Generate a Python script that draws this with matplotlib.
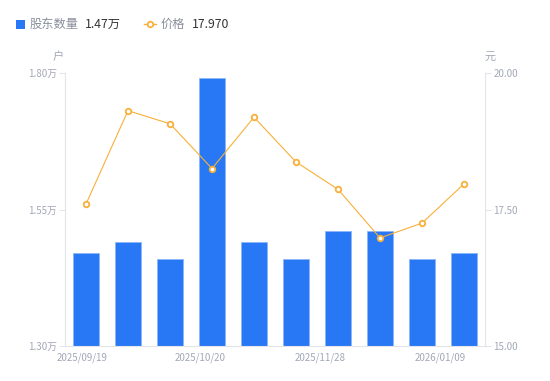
import matplotlib
matplotlib.use("Agg")
import matplotlib.pyplot as plt
from matplotlib.lines import Line2D
from matplotlib.transforms import ScaledTranslation

plt.rcParams['font.family'] = ['Noto Sans CJK SC', 'DejaVu Sans']

dates = ["2025/09/19", "2025/09/30", "2025/10/10", "2025/10/20", "2025/10/31",
         "2025/11/14", "2025/11/28", "2025/12/12", "2025/12/26", "2026/01/09"]
holders = [1.47, 1.49, 1.46, 1.79, 1.49, 1.46, 1.51, 1.51, 1.46, 1.47]  # 万户
prices = [17.60, 19.31, 19.07, 18.25, 19.19, 18.37, 17.87, 16.98, 17.25, 17.97]
left_ticks = [1.30, 1.55, 1.80]
right_ticks = [15.00, 17.50, 20.00]
shown_idx = [0, 3, 6, 9]

BLUE = "#2878F5"
ORANGE = "#F8B03A"
GRID = "#E3E5EA"
TICK = "#A3A7B7"

fig = plt.figure(figsize=(5.5, 3.81), dpi=100)
ax = fig.add_axes([65/550, 35/381, 420/550, 273/381])
x = list(range(len(dates)))
ax.bar(x, [h - left_ticks[0] for h in holders], bottom=left_ticks[0], width=0.6,
       color=BLUE, edgecolor="#8DB6F8", linewidth=0.6, zorder=2)
ax.set_xlim(-0.5, len(dates) - 0.5)
ax.set_ylim(left_ticks[0], left_ticks[-1])
ax.set_yticks(left_ticks)
ax.set_yticklabels([f"{v:.2f}万" for v in left_ticks])
ax.set_xticks([x[i] for i in shown_idx])
ax.set_xticklabels([dates[i] for i in shown_idx])
ax.tick_params(axis='x', length=0, pad=5, labelsize=7, colors=TICK)
ax.tick_params(axis='y', length=4, width=0.8, color=GRID, labelsize=7, labelcolor=TICK, pad=2)
for s in ["top", "right"]:
    ax.spines[s].set_visible(False)
for s in ["left", "bottom"]:
    ax.spines[s].set_color(GRID)
    ax.spines[s].set_linewidth(0.8)

# label shifts (pixels) to mimic evenly spread labels
shifts = [-4, -11.5, -18, -24]
for lab, dx in zip(ax.get_xticklabels(), shifts):
    lab.set_horizontalalignment('center')
    lab.set_transform(lab.get_transform() + ScaledTranslation(dx/100, 0, fig.dpi_scale_trans))

ax2 = ax.twinx()
ax2.plot(x, prices, color=ORANGE, linewidth=0.8, marker='o', markersize=4,
         markerfacecolor='white', markeredgecolor=ORANGE, markeredgewidth=1.3, zorder=3)
ax2.set_ylim(right_ticks[0], right_ticks[-1])
ax2.set_yticks(right_ticks)
ax2.set_yticklabels([f"{v:.2f}" for v in right_ticks])
ax2.tick_params(axis='y', length=4, width=0.8, color=GRID, labelsize=7, labelcolor=TICK, pad=2)
for s in ["top", "left", "bottom"]:
    ax2.spines[s].set_visible(False)
ax2.spines["right"].set_color(GRID)
ax2.spines["right"].set_linewidth(0.8)

fig.text(58/550, 1 - 57/381, "户", fontsize=8, color=TICK, ha='center', va='center')
fig.text(490/550, 1 - 57/381, "元", fontsize=8, color=TICK, ha='center', va='center')

# legend
fig.patches.append(plt.Rectangle((16/550, 1 - 29/381), 9/550, 9/381, transform=fig.transFigure,
                                 facecolor=BLUE, edgecolor='none'))
fig.text(30/550, 1 - 24/381, "股东数量", fontsize=8.8, color="#8A8F9C", va='center')
fig.text(85/550, 1 - 24/381, f"{holders[-1]:.2f}万", fontsize=8.8, color="#333333", va='center')
fig.lines.append(Line2D([144/550, 156/550], [1 - 24/381, 1 - 24/381], transform=fig.transFigure,
                        color=ORANGE, linewidth=1))
fig.lines.append(Line2D([150/550], [1 - 24/381], transform=fig.transFigure, color=ORANGE,
                        marker='o', markersize=4, markerfacecolor='white', markeredgewidth=1.3))
fig.text(161/550, 1 - 24/381, "价格", fontsize=8.8, color="#8A8F9C", va='center')
fig.text(192/550, 1 - 24/381, f"{prices[-1]:.3f}", fontsize=8.8, color="#333333", va='center')

fig.savefig("out.png", dpi=100)
